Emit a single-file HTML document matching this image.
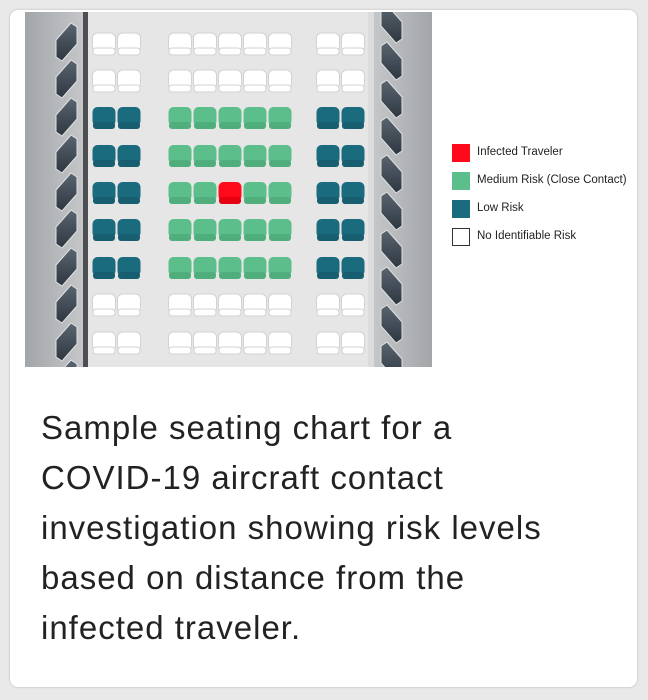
<!DOCTYPE html>
<html><head><style>
html,body{margin:0;padding:0;background:#e9e9e9;width:648px;height:700px;overflow:hidden}
.card{position:absolute;left:10px;top:10px;width:627px;height:677px;background:#fff;border-radius:8px;box-shadow:0 0 2px rgba(0,0,0,.25)}
.cap{position:absolute;left:41px;top:403px;font-family:"Liberation Sans",sans-serif;font-size:33px;letter-spacing:1px;line-height:50px;color:#222;white-space:nowrap}
.leg{position:absolute;left:452px;font-family:"Liberation Sans",sans-serif;font-size:11.5px;color:#222}
.leg span{position:absolute;left:0;top:-3px;width:18px;height:18px;box-sizing:border-box}
.leg b{font-weight:normal;position:absolute;left:25px;top:-1px;white-space:nowrap}
</style></head><body>
<div class="card"></div>
<svg style="position:absolute;left:0;top:0" width="648" height="400">
<defs>
<linearGradient id="wl" x1="0" x2="1"><stop offset="0" stop-color="#a3a6a9"/><stop offset="1" stop-color="#c4c6c8"/></linearGradient>
<linearGradient id="wr" x1="0" x2="1"><stop offset="0" stop-color="#c4c6c8"/><stop offset="1" stop-color="#a3a6a9"/></linearGradient>
<linearGradient id="win" x1="0" y1="0" x2="0" y2="1"><stop offset="0" stop-color="#5a6570"/><stop offset="1" stop-color="#2e3740"/></linearGradient>
<g id="sW"><rect x="-11.5" y="-11" width="23" height="19" rx="5" fill="#fff" stroke="#d2d2d2"/><rect x="-11" y="4" width="22" height="7" rx="3" fill="#fff" stroke="#d2d2d2"/></g>
<g id="sT"><rect x="-11.5" y="-11" width="23" height="19" rx="5" fill="#1b6b7e"/><rect x="-11" y="4" width="22" height="7" rx="3" fill="#175e70"/></g>
<g id="sG"><rect x="-11.5" y="-11" width="23" height="19" rx="5" fill="#5cbf8b"/><rect x="-11" y="4" width="22" height="7" rx="3" fill="#4fae7c"/></g>
<g id="sR"><rect x="-11.5" y="-11" width="23" height="19" rx="5" fill="#ff0a1a"/><rect x="-11" y="4" width="22" height="7" rx="3" fill="#e60010"/></g>
<g id="rW"><use href="#sW" x="104"/><use href="#sW" x="129"/><use href="#sW" x="180"/><use href="#sW" x="205"/><use href="#sW" x="230"/><use href="#sW" x="255"/><use href="#sW" x="280"/><use href="#sW" x="328"/><use href="#sW" x="353"/></g>
<g id="rM"><use href="#sT" x="104"/><use href="#sT" x="129"/><use href="#sG" x="180"/><use href="#sG" x="205"/><use href="#sG" x="230"/><use href="#sG" x="255"/><use href="#sG" x="280"/><use href="#sT" x="328"/><use href="#sT" x="353"/></g>
<g id="rI"><use href="#sT" x="104"/><use href="#sT" x="129"/><use href="#sG" x="180"/><use href="#sG" x="205"/><use href="#sR" x="230"/><use href="#sG" x="255"/><use href="#sG" x="280"/><use href="#sT" x="328"/><use href="#sT" x="353"/></g>
<polygon id="wL" points="56,-2 71,-19 77,-15 77,2 62,19 56,15" fill="url(#win)" stroke="#dfe2e4" stroke-width="1"/>
<polygon id="wR" points="402,-2 387,-19 381,-15 381,2 396,19 402,15" fill="url(#win)" stroke="#dfe2e4" stroke-width="1"/>
<clipPath id="c"><rect x="25" y="12" width="407" height="355"/></clipPath>
</defs>
<g clip-path="url(#c)">
<rect x="25" y="12" width="407" height="355" fill="#e6e6e6"/>
<rect x="25" y="12" width="58" height="355" fill="url(#wl)"/>
<rect x="83" y="12" width="5" height="355" fill="#4d4f52"/>
<rect x="368" y="12" width="6" height="355" fill="#dcdcdc"/>
<rect x="374" y="12" width="58" height="355" fill="url(#wr)"/>
<use href="#wL" y="42"/><use href="#wL" y="79"/><use href="#wL" y="117"/><use href="#wL" y="154"/><use href="#wL" y="192"/><use href="#wL" y="229"/><use href="#wL" y="267"/><use href="#wL" y="304"/><use href="#wL" y="342"/><use href="#wL" y="379"/>
<use href="#wR" y="24"/><use href="#wR" y="61"/><use href="#wR" y="99"/><use href="#wR" y="136"/><use href="#wR" y="174"/><use href="#wR" y="211"/><use href="#wR" y="249"/><use href="#wR" y="286"/><use href="#wR" y="324"/><use href="#wR" y="361"/>
<use href="#rW" y="44"/><use href="#rW" y="81"/><use href="#rM" y="118"/><use href="#rM" y="156"/><use href="#rI" y="193"/><use href="#rM" y="230"/><use href="#rM" y="268"/><use href="#rW" y="305"/><use href="#rW" y="343"/>
</g>
</svg>
<div class="leg" style="top:147px"><span style="background:#ff0a1a"></span><b>Infected Traveler</b></div>
<div class="leg" style="top:175px"><span style="background:#5cbf8b"></span><b>Medium Risk (Close Contact)</b></div>
<div class="leg" style="top:203px"><span style="background:#1b6b7e"></span><b>Low Risk</b></div>
<div class="leg" style="top:231px"><span style="background:#fff;border:1.5px solid #333"></span><b>No Identifiable Risk</b></div>
<div class="cap">Sample seating chart for a<br>COVID-19 aircraft contact<br>investigation showing risk levels<br>based on distance from the<br>infected traveler.</div>
</body></html>
